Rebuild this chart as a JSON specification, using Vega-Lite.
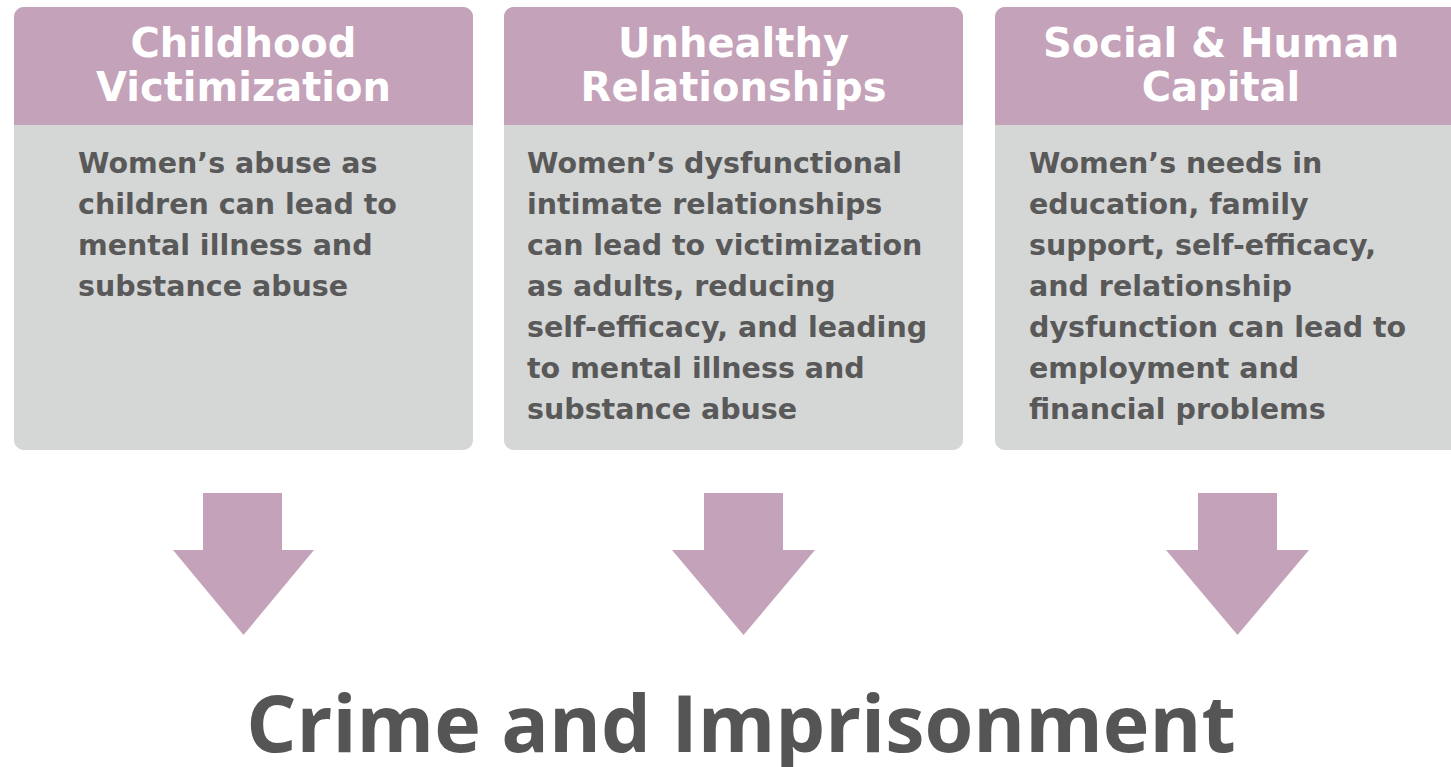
{
  "$schema": "https://vega.github.io/schema/vega-lite/v6.json",
  "width": 1451,
  "height": 767,
  "autosize": "none",
  "padding": 0,
  "background": "white",
  "config": {"view": {"stroke": null}},
  "datasets": {
    "boxes": [
      {"box": "Childhood Victimization", "left": 14, "right": 473},
      {"box": "Unhealthy Relationships", "left": 504, "right": 963},
      {"box": "Social & Human Capital", "left": 995, "right": 1462}
    ],
    "shafts": [
      {"arrow": "1", "left": 203, "right": 282},
      {"arrow": "2", "left": 704, "right": 783},
      {"arrow": "3", "left": 1198, "right": 1277}
    ],
    "heads": [
      {"arrow": "1", "px": 173, "ytop": 550, "ybot": 550},
      {"arrow": "1", "px": 243.5, "ytop": 550, "ybot": 635},
      {"arrow": "1", "px": 314, "ytop": 550, "ybot": 550},
      {"arrow": "2", "px": 672, "ytop": 550, "ybot": 550},
      {"arrow": "2", "px": 743.5, "ytop": 550, "ybot": 635},
      {"arrow": "2", "px": 815, "ytop": 550, "ybot": 550},
      {"arrow": "3", "px": 1166, "ytop": 550, "ybot": 550},
      {"arrow": "3", "px": 1237.5, "ytop": 550, "ybot": 635},
      {"arrow": "3", "px": 1309, "ytop": 550, "ybot": 550}
    ],
    "titles": [
      {"cx": 243.5, "text": "Childhood\nVictimization"},
      {"cx": 733.5, "text": "Unhealthy\nRelationships"},
      {"cx": 1221, "text": "Social & Human\nCapital"}
    ],
    "bodies": [
      {"lx": 78, "text": "Women’s abuse as\nchildren can lead to\nmental illness and\nsubstance abuse"},
      {"lx": 527, "text": "Women’s dysfunctional\nintimate relationships\ncan lead to victimization\nas adults, reducing\nself-efficacy, and leading\nto mental illness and\nsubstance abuse"},
      {"lx": 1029, "text": "Women’s needs in\neducation, family\nsupport, self-efficacy,\nand relationship\ndysfunction can lead to\nemployment and\nfinancial problems"}
    ],
    "footer": [{"cx": 741, "text": "Crime and Imprisonment"}]
  },
  "layer": [
    {
      "data": {"name": "boxes"},
      "mark": {"type": "rect", "color": "#d5d6d6", "cornerRadius": 10, "clip": true},
      "encoding": {
        "x": {"field": "left", "type": "quantitative", "scale": {"domain": [0, 1451], "nice": false, "zero": false}, "axis": null},
        "x2": {"field": "right"},
        "y": {"datum": 7, "type": "quantitative", "scale": {"domain": [0, 767], "nice": false, "zero": false, "reverse": true}, "axis": null},
        "y2": {"datum": 450}
      }
    },
    {
      "data": {"name": "boxes"},
      "mark": {"type": "rect", "color": "#c4a2b9", "cornerRadiusTopLeft": 10, "cornerRadiusTopRight": 10, "clip": true},
      "encoding": {
        "x": {"field": "left", "type": "quantitative"},
        "x2": {"field": "right"},
        "y": {"datum": 7, "type": "quantitative"},
        "y2": {"datum": 125}
      }
    },
    {
      "data": {"name": "shafts"},
      "mark": {"type": "rect", "color": "#c4a2b9"},
      "encoding": {
        "x": {"field": "left", "type": "quantitative"},
        "x2": {"field": "right"},
        "y": {"datum": 493, "type": "quantitative"},
        "y2": {"datum": 551}
      }
    },
    {
      "data": {"name": "heads"},
      "mark": {"type": "area", "color": "#c4a2b9", "opacity": 1},
      "encoding": {
        "x": {"field": "px", "type": "quantitative"},
        "y": {"field": "ytop", "type": "quantitative"},
        "y2": {"field": "ybot"},
        "detail": {"field": "arrow"}
      }
    },
    {
      "data": {"name": "titles"},
      "mark": {"type": "text", "color": "#ffffff", "font": "DejaVu Sans", "fontWeight": "bold", "fontSize": 40, "align": "center", "baseline": "alphabetic", "lineBreak": "\n", "lineHeight": 44},
      "encoding": {
        "x": {"field": "cx", "type": "quantitative"},
        "y": {"datum": 57, "type": "quantitative"},
        "text": {"field": "text"}
      }
    },
    {
      "data": {"name": "bodies"},
      "mark": {"type": "text", "color": "#595959", "font": "DejaVu Sans", "fontWeight": "bold", "fontSize": 28.5, "align": "left", "baseline": "alphabetic", "lineBreak": "\n", "lineHeight": 41},
      "encoding": {
        "x": {"field": "lx", "type": "quantitative"},
        "y": {"datum": 173, "type": "quantitative"},
        "text": {"field": "text"}
      }
    },
    {
      "data": {"name": "footer"},
      "mark": {"type": "text", "color": "#555555", "font": "Open Sans", "fontWeight": 700, "fontSize": 79, "align": "center", "baseline": "alphabetic"},
      "encoding": {
        "x": {"field": "cx", "type": "quantitative"},
        "y": {"datum": 752, "type": "quantitative"},
        "text": {"field": "text"}
      }
    }
  ]
}
